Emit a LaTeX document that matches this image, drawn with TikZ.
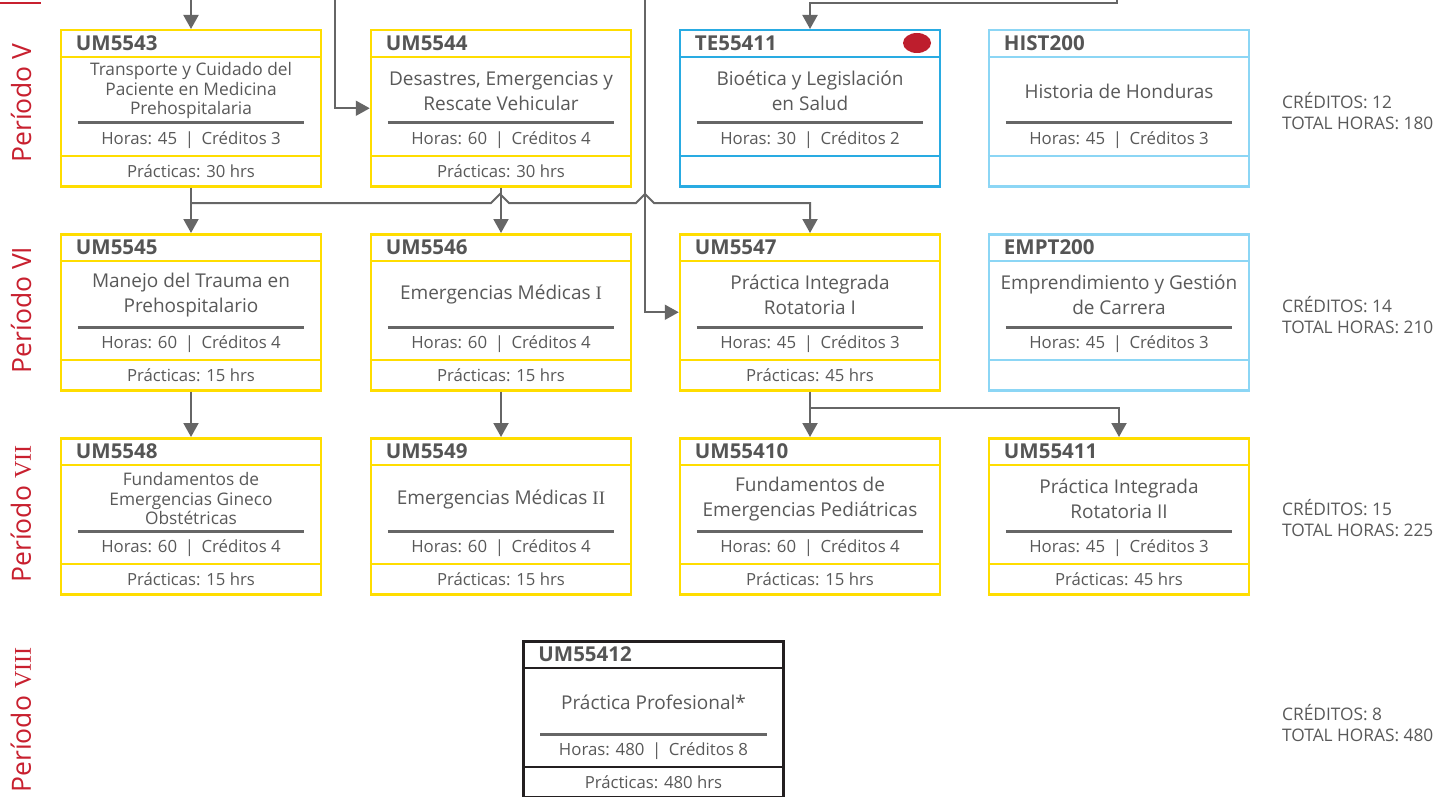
\documentclass[tikz,border=0pt]{standalone}
\usepackage{fontspec}
\setmainfont{Open Sans}
\newfontfamily\serifnum{Liberation Serif}
\usetikzlibrary{arrows.meta}
\definecolor{ylw}{RGB}{255,221,0}
\definecolor{blu}{RGB}{41,171,226}
\definecolor{lblu}{RGB}{140,214,245}
\definecolor{blk}{RGB}{35,31,32}
\definecolor{txt}{RGB}{89,89,89}
\definecolor{cod}{RGB}{85,85,85}
\definecolor{linegray}{RGB}{102,102,102}
\definecolor{redp}{RGB}{200,32,47}
\definecolor{dotred}{RGB}{190,30,45}
\newcommand\sepbar{\hspace{0.45em}|\hspace{0.45em}}
\newcommand\pnum[1]{{\serifnum\fontsize{24}{28}\selectfont #1}}
\tikzset{
 boxframe/.style={draw=#1, line width=2.5pt, minimum width=260pt, minimum height=156pt, inner sep=0pt, anchor=north},
 sepline/.style={draw=#1, line width=2.5pt},
 codetxt/.style={font=\fontsize{20.5}{22}\selectfont\bfseries, text=cod, anchor=west, inner sep=0pt},
 titletxt/.style={font=\fontsize{19}{25}\selectfont, text=txt, align=center, inner sep=0pt},
 titlesmall/.style={font=\fontsize{17.3}{19.5}\selectfont, text=txt, align=center, inner sep=0pt},
 horastxt/.style={font=\fontsize{16.8}{20}\selectfont, text=txt, inner sep=0pt},
 practxt/.style={font=\fontsize{16.7}{20}\selectfont, text=txt, inner sep=0pt},
 grayrule/.style={draw=linegray, line width=3pt},
 conn/.style={draw=linegray, line width=2pt, -{Triangle[width=15pt,length=14pt]}},
 period/.style={font=\fontsize{26.5}{30}\selectfont, text=redp, rotate=90, inner sep=0pt},
 info/.style={font=\fontsize{17.3}{20.5}\selectfont, text=txt, align=left, anchor=west, inner sep=0pt},
}
% #1 name, #2 center x, #3 top y, #4 colour, #5 code, #6 title, #7 horas, #8 practicas, #9 title style
\newcommand\course[9]{%
 \node[boxframe=#4] (#1) at (#2,#3) {};
 \draw[sepline=#4] ([yshift=-28pt]#1.north west) -- ([yshift=-28pt]#1.north east);
 \draw[sepline=#4] ([yshift=-127pt]#1.north west) -- ([yshift=-127pt]#1.north east);
 \draw[grayrule] ([xshift=18pt,yshift=-94pt]#1.north west) -- ([xshift=-18pt,yshift=-94pt]#1.north east);
 \node[codetxt] (#1c) at ([xshift=16pt,yshift=-14.5pt]#1.north west) {#5};
 \node[#9] (#1t) at ([yshift=-62pt]#1.north) {#6};
 \node[horastxt] (#1h) at ([yshift=-111pt]#1.north) {#7};
 \node[practxt] (#1p) at ([yshift=-142pt]#1.north) {#8};
}
\begin{document}
\begin{tikzpicture}[x=1pt,y=-1pt]
\useasboundingbox (0,0) rectangle (1439,797);
\fill[white] (0,0) rectangle (1439,797);
\draw[redp, line width=2pt] (0,3) -- (41,3);

% Period V
\course{c43}{191}{29}{ylw}{UM5543}{Transporte y Cuidado del\\Paciente en Medicina\\Prehospitalaria}{Horas: 45\sepbar Créditos 3}{Prácticas: 30 hrs}{titlesmall}
\course{c44}{501}{29}{ylw}{UM5544}{Desastres, Emergencias y\\Rescate Vehicular}{Horas: 60\sepbar Créditos 4}{Prácticas: 30 hrs}{titletxt}
\course{te}{810}{29}{blu}{TE55411}{Bioética y Legislación\\en Salud}{Horas: 30\sepbar Créditos 2}{}{titletxt}
\course{hist}{1119}{29}{lblu}{HIST200}{Historia de Honduras}{Horas: 45\sepbar Créditos 3}{}{titletxt}
\fill[dotred] (917,43) ellipse [x radius=14pt, y radius=10pt];

% Period VI
\course{c45}{191}{233}{ylw}{UM5545}{Manejo del Trauma en\\Prehospitalario}{Horas: 60\sepbar Créditos 4}{Prácticas: 15 hrs}{titletxt}
\course{c46}{501}{233}{ylw}{UM5546}{Emergencias Médicas {\serifnum I}}{Horas: 60\sepbar Créditos 4}{Prácticas: 15 hrs}{titletxt}
\course{c47}{810}{233}{ylw}{UM5547}{Práctica Integrada\\Rotatoria I}{Horas: 45\sepbar Créditos 3}{Prácticas: 45 hrs}{titletxt}
\course{empt}{1119}{233}{lblu}{EMPT200}{Emprendimiento y Gestión\\de Carrera}{Horas: 45\sepbar Créditos 3}{}{titletxt}

% Period VII
\course{c48}{191}{437}{ylw}{UM5548}{Fundamentos de\\Emergencias Gineco\\Obstétricas}{Horas: 60\sepbar Créditos 4}{Prácticas: 15 hrs}{titlesmall}
\course{c49}{501}{437}{ylw}{UM5549}{Emergencias Médicas {\serifnum II}}{Horas: 60\sepbar Créditos 4}{Prácticas: 15 hrs}{titletxt}
\course{c410}{810}{437}{ylw}{UM55410}{Fundamentos de\\Emergencias Pediátricas}{Horas: 60\sepbar Créditos 4}{Prácticas: 15 hrs}{titletxt}
\course{c411}{1119}{437}{ylw}{UM55411}{Práctica Integrada\\Rotatoria II}{Horas: 45\sepbar Créditos 3}{Prácticas: 45 hrs}{titletxt}

% Period VIII
\course{c412}{653.5}{640}{blk}{UM55412}{Práctica Profesional*}{Horas: 480\sepbar Créditos 8}{Prácticas: 480 hrs}{titletxt}

% Period labels
\node[period] (p5) at (21,103) {Período V};
\node[period] (p6) at (21,310) {Período VI};
\node[period] (p7) at (21,514) {Período \pnum{VII}};
\node[period] (p8) at (21,720) {Período \pnum{VIII}};

% Totals
\node[info] (s5) at (1282,111) {CRÉDITOS: 12\\TOTAL HORAS: 180};
\node[info] (s6) at (1282,315) {CRÉDITOS: 14\\TOTAL HORAS: 210};
\node[info] (s7) at (1282,518) {CRÉDITOS: 15\\TOTAL HORAS: 225};
\node[info] (s8) at (1282,723) {CRÉDITOS: 8\\TOTAL HORAS: 480};

% Connectors
\coordinate (in1) at (191,0);
\coordinate (in2) at (335,0);
\coordinate (in3) at (645,0);
\coordinate (in4) at (1117,0);
\coordinate (jn) at (191,203);
\coordinate (jr) at (810,408);
\draw[conn] (in1) -- (c43.north);
\draw[conn] (in2) |- (c44.west);
\draw[conn] (in3) |- (c47.west);
\draw[conn] (in4) -- (1117,3) -| (te.north);
\draw[conn] (c43.south) -- (c45.north);
\draw[conn] (c44.south) -- (c46.north);
\draw[conn] (jn) -- (491,203) -- (500,194) -- (509,203) -- (636,203) -- (645,194) -- (654,203) -| (c47.north);
\draw[conn] (c45.south) -- (c48.north);
\draw[conn] (c46.south) -- (c49.north);
\draw[conn] (c47.south) -- (c410.north);
\draw[conn] (jr) -| (c411.north);
\end{tikzpicture}
\end{document}
